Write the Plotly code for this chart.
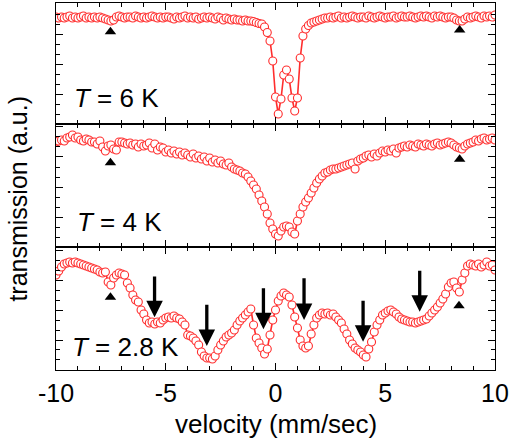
import numpy as np
import plotly.graph_objects as go

# velocity channels (mm/sec)
velocity = np.linspace(-10, 10, 161)

# transmission (a.u.), one row = 1 mm/sec
trans_6K = [
    107, 106, 107, 106, 107, 108, 106, 107,
    106, 107, 108, 106, 107, 106, 107, 106,
    107, 106, 105, 104, 103, 104, 107, 108,
    107, 106, 107, 107, 106, 108, 107, 106,
    107, 106, 107, 108, 107, 106, 107, 106,
    107, 107, 106, 105, 107, 106, 107, 108,
    106, 107, 106, 107, 105, 106, 107, 106,
    107, 106, 105, 107, 106, 104, 106, 105,
    104, 105, 104, 104, 103, 104, 103, 103,
    102.5, 101.5, 100.5, 100, 97, 91.5, 83, 63,
    27, 10, 25, 49, 54, 45, 26, 13,
    26, 66, 88, 95, 98.5, 101, 102, 103,
    104, 105, 106, 106, 107, 106, 107, 108,
    106, 107, 106, 107, 108, 107, 106, 107,
    107, 106, 108, 107, 106, 107, 108, 107,
    106, 107, 107, 108, 106, 107, 108, 107,
    107, 108, 107, 106, 107, 108, 107, 108,
    107, 106, 108, 107, 108, 107, 106, 107,
    107, 106, 104, 103, 103, 105, 107, 106,
    107, 108, 107, 106, 108, 107, 108, 107,
    109,
]

trans_4K = [
    105, 106, 107, 106, 109, 110, 112, 109,
    110, 107, 106, 108, 107, 105, 105, 103,
    106, 100, 96, 101, 102, 98, 97, 105,
    105, 104, 103, 104, 102, 103, 100, 103,
    101, 102, 104, 99, 103, 97, 100, 99,
    95, 97, 94, 96, 93, 95, 92, 94,
    92, 90, 93, 89, 91, 88, 90, 86,
    89, 85, 87, 84, 86, 83, 82, 84,
    80, 78, 77, 76, 74, 73, 70, 66,
    62, 58, 52, 46, 40, 33, 24, 18,
    13, 11, 16, 20, 21, 20, 15, 13,
    26, 33, 40, 45, 49, 54, 59, 64,
    68, 71, 74, 75, 77, 78, 78, 79,
    80, 81, 82, 83, 84, 78, 86, 88,
    89, 91, 92, 90, 93, 91, 94, 96,
    95, 97, 96, 98, 94, 99, 100, 101,
    100, 102, 101, 100, 103, 102, 101, 103,
    102, 101, 103, 104, 102, 103, 104, 105,
    104, 102, 100, 99, 98, 101, 103, 104,
    105, 107, 106, 108, 109, 107, 108, 109,
    107,
]

trans_2p8K = [
    95, 99, 103, 106, 107, 108, 107, 108,
    107, 106, 105, 104, 103, 102, 101, 100,
    98, 97, 98, 88, 85, 92, 95, 97,
    96, 95, 87, 82, 75, 70, 68, 60,
    56, 50, 47, 48, 46, 48, 47, 50,
    52, 53, 52, 54, 52, 51, 48, 45,
    35, 34, 32, 29, 25, 18, 14, 12,
    12, 11, 14, 20, 25, 29, 33, 35,
    37, 40, 45, 49, 52, 55, 58, 61,
    45, 32, 27, 22, 16, 21, 35, 50,
    60, 69, 74, 77, 75, 73, 65, 53,
    42, 30, 24, 22, 24, 36, 45, 52,
    55, 57, 56, 57, 55, 56, 53, 50,
    47, 41, 36, 30, 26, 22, 20, 18,
    15, 13, 21, 28, 38, 45, 50, 55,
    57, 59, 60, 58, 56, 53, 51, 50,
    49, 48, 48, 47, 48, 49, 50, 51,
    54, 57, 60, 63, 67, 71, 76, 83,
    87, 88, 82, 78, 90, 97, 104, 106,
    105, 104, 106, 103, 105, 108, 104, 105,
    100,
]

panel_labels = ["6 K", "4 K", "2.8 K"]
x_tickvals = [-10, -5, 0, 5, 10]
x_ticktext = ["-10", "-5", "0", "5", "10"]

# triangle markers
tri_v_6K = [-7.52, 8.39]
tri_y_6K = [92.3, 94]
tri_v_4K = [-7.52, 8.39]
tri_y_4K = [84.3, 87.7]
tri_v_2p8K = [-7.52, 8.36]
tri_y_2p8K = [72.7, 64.3]

# arrows in the 2.8 K panel
arrow_v = [-5.51, -3.13, -0.55, 1.30, 3.99, 6.57]
arrow_tip = [52.7, 24, 40.7, 50, 28.3, 58.3]
arrow_tail = [95, 66.7, 83.3, 93.3, 70.7, 100.7]

assert len(trans_6K) == 161 and len(trans_4K) == 161 and len(trans_2p8K) == 161

RED = "rgb(255,45,45)"
FONT = "Liberation Sans, Arial, Helvetica, sans-serif"

fig = go.Figure()
series = [trans_6K, trans_4K, trans_2p8K]
tris = [(tri_v_6K, tri_y_6K), (tri_v_4K, tri_y_4K), (tri_v_2p8K, tri_y_2p8K)]
for i, ys in enumerate(series):
    sfx = "" if i == 0 else str(i + 1)
    fig.add_trace(go.Scatter(
        x=velocity, y=ys, mode="lines+markers",
        line=dict(color=RED, width=1.6),
        marker=dict(symbol="circle", size=8, color="white",
                    line=dict(color=RED, width=1.1)),
        xaxis="x" + sfx, yaxis="y" + sfx, showlegend=False))
    tv, ty = tris[i]
    fig.add_trace(go.Scatter(
        x=tv, y=ty, mode="markers",
        marker=dict(symbol="triangle-up", size=10, color="black"),
        xaxis="x" + sfx, yaxis="y" + sfx, showlegend=False))

domains = [[0.6703, 1.0], [0.3351, 0.6703], [0.0, 0.3351]]
yranges = [[0, 121], [0, 123], [0, 123]]

axis_common = dict(showline=True, linecolor="black", linewidth=1.3,
                   mirror="allticks", ticks="inside", tickcolor="black",
                   showgrid=False, zeroline=False)
layout = dict(width=512, height=439, margin=dict(l=56, r=17, t=3, b=69),
              paper_bgcolor="white", plot_bgcolor="white",
              font=dict(family=FONT, color="black"))
for i in range(3):
    sfx = "" if i == 0 else str(i + 1)
    layout["xaxis" + sfx] = dict(
        axis_common, range=[-10, 10], tickmode="array",
        tickvals=x_tickvals, ticktext=x_ticktext,
        ticklen=7, tickwidth=1.3, ticklabelstandoff=1,
        minor=dict(dtick=1, tick0=0, ticklen=4, tickwidth=1.1, ticks="inside",
                   tickcolor="black", showgrid=False),
        anchor="y" + sfx, showticklabels=(i == 2),
        tickfont=dict(size=25, family=FONT),
        matches=None if i == 0 else "x")
    layout["yaxis" + sfx] = dict(
        axis_common, range=yranges[i], domain=domains[i],
        tick0=0, dtick=30, ticklen=7, tickwidth=1.3,
        minor=dict(dtick=10, tick0=0, ticklen=4, tickwidth=1.1, ticks="inside",
                   tickcolor="black", showgrid=False),
        anchor="x" + sfx, showticklabels=False)
fig.update_layout(**layout)

label_pos = [(0.036, 0.7425), (0.043, 0.404), (0.032, 0.0635)]
for (px, py), lab in zip(label_pos, panel_labels):
    fig.add_annotation(x=px, y=py, xref="paper", yref="paper",
                       xanchor="left", yanchor="middle", showarrow=False,
                       text="<i>T</i> = " + lab,
                       font=dict(size=26, family=FONT, color="black"))

for v, tip, tail in zip(arrow_v, arrow_tip, arrow_tail):
    fig.add_annotation(x=v, y=tip, ax=v, ay=tail, xref="x3", yref="y3",
                       axref="x3", ayref="y3", text="", showarrow=True,
                       arrowhead=2, arrowsize=1, arrowwidth=3.3,
                       arrowcolor="black")

fig.add_annotation(x=0.5, y=-0.147, xref="paper", yref="paper",
                   text="velocity (mm/sec)", showarrow=False,
                   xanchor="center", yanchor="middle",
                   font=dict(size=26, family=FONT, color="black"))
fig.add_annotation(x=-0.0866, y=0.467, xref="paper", yref="paper",
                   text="transmission (a.u.)", showarrow=False, textangle=-90,
                   xanchor="center", yanchor="middle",
                   font=dict(size=25, family=FONT, color="black"))

fig.write_html("out.html")
